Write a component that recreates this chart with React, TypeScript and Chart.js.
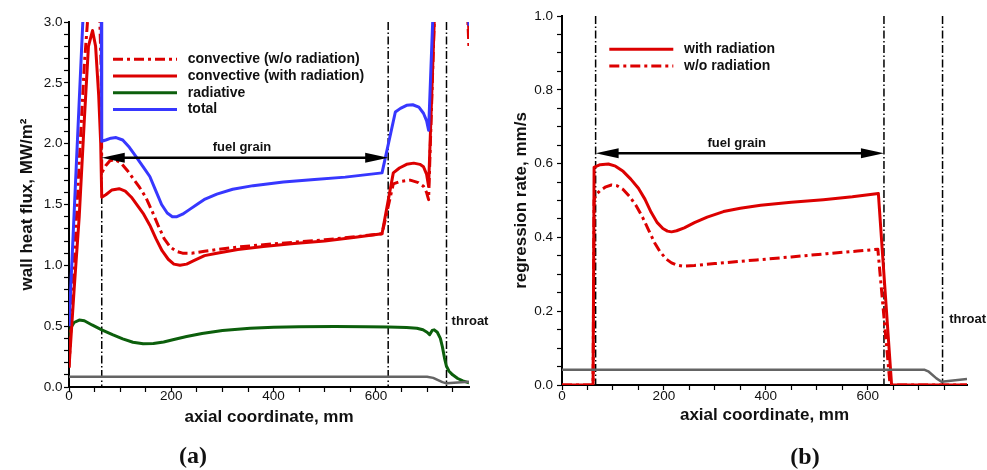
import { useEffect, useRef } from 'react';
import { Chart, registerables } from 'chart.js';

Chart.register(...registerables);

const FONT = "'Liberation Sans', Arial, Helvetica, sans-serif";
Chart.defaults.font.family = FONT;
Chart.defaults.color = '#111';

// ---------- Panel (a): wall heat flux ----------
const A_X_TICKS = [0, 50, 100, 150, 200, 250, 300, 350, 400, 450, 500, 550, 600, 650, 700, 750];
const A_X_LABELS = [0, 200, 400, 600];
const A_Y_TICKS = [0, 0.1, 0.2, 0.3, 0.4, 0.5, 0.6, 0.7, 0.8, 0.9, 1.0, 1.1, 1.2, 1.3, 1.4, 1.5, 1.6, 1.7, 1.8, 1.9, 2.0, 2.1, 2.2, 2.3, 2.4, 2.5, 2.6, 2.7, 2.8, 2.9, 3.0];
const A_Y_LABELS = [0, 0.5, 1.0, 1.5, 2.0, 2.5, 3.0];

const A_CONV_WO_X = [0, 10, 20, 30, 37, 50, 60, 63, 64, 72, 80, 90, 102, 114, 126, 138, 150, 162, 174, 186, 198, 210, 222, 240, 265, 289, 330, 380, 440, 500, 560, 612, 634, 648, 667, 683, 693, 699, 703, 714, 722, 770, 782];
const A_CONV_WO_Y = [0.16, 1.0, 1.85, 2.65, 3.05, 3.25, 3.05, 2.6, 1.76, 1.82, 1.86, 1.87, 1.84, 1.78, 1.71, 1.64, 1.56, 1.45, 1.33, 1.22, 1.15, 1.115, 1.10, 1.10, 1.115, 1.13, 1.15, 1.17, 1.19, 1.21, 1.235, 1.26, 1.67, 1.69, 1.70, 1.68, 1.65, 1.60, 1.54, 3.0, 4.0, 4.0, 2.78];

const A_CONV_W_X = [0, 10, 20, 30, 38, 46, 52, 58, 62, 64, 72, 84, 98, 110, 122, 134, 146, 158, 170, 182, 194, 205, 217, 230, 245, 265, 289, 330, 380, 440, 500, 560, 612, 634, 646, 660, 674, 686, 693, 699, 703, 714, 722, 770, 782];
const A_CONV_W_Y = [0.16, 0.8, 1.4, 2.2, 2.8, 2.93, 2.8, 2.4, 2.0, 1.56, 1.58, 1.62, 1.63, 1.61, 1.56, 1.49, 1.42, 1.33, 1.22, 1.12, 1.05, 1.01, 1.00, 1.01, 1.04, 1.08, 1.10, 1.13, 1.155, 1.18, 1.20, 1.23, 1.26, 1.76, 1.80, 1.83, 1.84, 1.83, 1.81, 1.75, 1.65, 3.0, 4.0, 4.0, 2.9];

const A_RAD_X = [0, 4, 10, 20, 30, 45, 64, 85, 105, 125, 145, 165, 185, 205, 230, 260, 300, 354, 400, 450, 520, 580, 625, 660, 680, 692, 700, 705, 710, 714, 720, 726, 730, 734, 738, 743, 750, 760, 770, 782];
const A_RAD_Y = [0.40, 0.49, 0.53, 0.55, 0.545, 0.51, 0.47, 0.43, 0.395, 0.368, 0.355, 0.357, 0.37, 0.39, 0.415, 0.44, 0.465, 0.483, 0.492, 0.496, 0.497, 0.495, 0.493, 0.49, 0.483, 0.47, 0.45, 0.43, 0.465, 0.47, 0.45, 0.40, 0.33, 0.24, 0.17, 0.13, 0.10, 0.07, 0.05, 0.035];

const A_TOTAL_X = [0, 27, 35, 50, 60, 63, 64, 72, 82, 92, 105, 118, 130, 145, 158, 170, 181, 192, 202, 211, 222, 236, 250, 266, 289, 320, 360, 419, 480, 540, 612, 638, 648, 660, 672, 684, 693, 699, 703, 711, 720, 770, 782];
const A_TOTAL_Y = [0.5, 3.0, 3.7, 4.0, 3.7, 3.2, 2.02, 2.03, 2.045, 2.05, 2.03, 1.97, 1.90, 1.81, 1.73, 1.61, 1.50, 1.43, 1.40, 1.40, 1.42, 1.46, 1.50, 1.545, 1.585, 1.625, 1.655, 1.685, 1.705, 1.725, 1.76, 2.26, 2.29, 2.315, 2.32, 2.30, 2.25, 2.19, 2.11, 3.0, 4.0, 4.0, 2.97];

const A_WALL_X = [0, 700, 712, 730, 738, 782];
const A_WALL_Y = [0.085, 0.085, 0.075, 0.04, 0.03, 0.044];

const A_MARKERS = [64, 624, 738];
const A_ARROW = [64, 624, 1.884];
const A_THROAT = [748, 0.537];

// ---------- Panel (b): regression rate ----------
const B_X_TICKS = [0, 50, 100, 150, 200, 250, 300, 350, 400, 450, 500, 550, 600, 650, 700, 750];
const B_X_LABELS = [0, 200, 400, 600];
const B_Y_TICKS = [0, 0.05, 0.1, 0.15, 0.2, 0.25, 0.3, 0.35, 0.4, 0.45, 0.5, 0.55, 0.6, 0.65, 0.7, 0.75, 0.8, 0.85, 0.9, 0.95, 1.0];
const B_Y_LABELS = [0, 0.2, 0.4, 0.6, 0.8, 1.0];

const B_WITH_X = [0, 61, 63, 66, 75, 91, 105, 120, 135, 150, 163, 175, 187, 198, 207, 215, 225, 240, 260, 285, 317, 350, 390, 450, 513, 570, 621, 647, 795];
const B_WITH_Y = [0, 0, 0.59, 0.592, 0.597, 0.599, 0.593, 0.579, 0.558, 0.533, 0.503, 0.468, 0.440, 0.424, 0.417, 0.415, 0.418, 0.426, 0.440, 0.455, 0.470, 0.479, 0.487, 0.495, 0.502, 0.510, 0.519, 0, 0];

const B_WO_X = [0, 61, 63, 66, 75, 86, 97, 108, 120, 132, 145, 158, 170, 182, 193, 205, 215, 225, 238, 260, 300, 382, 450, 520, 580, 620, 644, 795];
const B_WO_Y = [0, 0, 0.50, 0.515, 0.527, 0.537, 0.542, 0.540, 0.530, 0.512, 0.487, 0.455, 0.420, 0.385, 0.360, 0.341, 0.331, 0.325, 0.322, 0.324, 0.329, 0.339, 0.347, 0.356, 0.363, 0.368, 0, 0];

const B_WALL_X = [0, 712, 720, 735, 745, 795];
const B_WALL_Y = [0.041, 0.041, 0.036, 0.018, 0.009, 0.016];

const B_MARKERS = [66, 632, 747];
const B_ARROW = [66, 632, 0.628];
const B_THROAT = [760, 0.178];

const RED = 'rgb(220,0,0)';
const BLUE = 'rgb(55,55,255)';
const GREEN = 'rgb(12,95,12)';
const GRAY = 'rgb(100,100,100)';
const DASHDOT = [10, 4, 3, 4];

function series(label: string, xs: number[], ys: number[], color: string, width: number, dash: number[] = []) {
  return {
    label,
    data: xs.map((x, i) => ({ x, y: ys[i] })),
    borderColor: color,
    backgroundColor: color,
    borderWidth: width,
    borderDash: dash,
    pointRadius: 0,
    tension: 0,
    fill: false,
    borderJoinStyle: 'round',
  };
}

function near(list: number[], v: number) {
  return list.some((l) => Math.abs(l - v) < 1e-6);
}

type Spec = {
  width: number;
  datasets: any[];
  xMax: number;
  yMax: number;
  xTicks: number[];
  xLabels: number[];
  yTicks: number[];
  yLabels: number[];
  yTitle: string;
  padTop: number;
  padRight: number;
  yAxisWidth: number;
  xAxisHeight: number;
  yTitlePad: number;
  xTitlePad: number;
  yTickPad: number;
  xTickPad: number;
  markers: number[];
  arrow: number[];
  throat: number[];
  legend: { label: string; color: string; dash: number[] }[];
  legendDx: number;
  legendDy: number;
};

function overlay(spec: Spec) {
  return {
    id: 'overlay',
    beforeDatasetsDraw(chart: any) {
      const { ctx, chartArea, scales } = chart;
      const x = scales.x;
      ctx.save();
      ctx.strokeStyle = '#000';
      ctx.lineWidth = 1.5;
      ctx.setLineDash([8, 2.5, 1.5, 2.5]);
      for (const m of spec.markers) {
        const px = x.getPixelForValue(m);
        ctx.beginPath();
        ctx.moveTo(px, chartArea.top);
        ctx.lineTo(px, chartArea.bottom);
        ctx.stroke();
      }
      ctx.restore();
    },
    afterDatasetsDraw(chart: any) {
      const { ctx, chartArea, scales } = chart;
      const x = scales.x;
      const y = scales.y;
      ctx.save();
      // fuel grain arrow
      const xa = x.getPixelForValue(spec.arrow[0]);
      const xb = x.getPixelForValue(spec.arrow[1]);
      const ay = y.getPixelForValue(spec.arrow[2]);
      const head = 23;
      const hh = 5;
      ctx.strokeStyle = '#000';
      ctx.fillStyle = '#000';
      ctx.lineWidth = 2.5;
      ctx.setLineDash([]);
      ctx.beginPath();
      ctx.moveTo(xa + head - 2, ay);
      ctx.lineTo(xb - head + 2, ay);
      ctx.stroke();
      ctx.beginPath();
      ctx.moveTo(xa, ay);
      ctx.lineTo(xa + head, ay - hh);
      ctx.lineTo(xa + head, ay + hh);
      ctx.closePath();
      ctx.fill();
      ctx.beginPath();
      ctx.moveTo(xb, ay);
      ctx.lineTo(xb - head, ay - hh);
      ctx.lineTo(xb - head, ay + hh);
      ctx.closePath();
      ctx.fill();
      ctx.fillStyle = '#111';
      ctx.font = `bold 13px ${FONT}`;
      ctx.textAlign = 'center';
      ctx.textBaseline = 'middle';
      ctx.fillText('fuel grain', (xa + xb) / 2 - 3, ay - 10);
      // throat
      ctx.textAlign = 'left';
      ctx.fillText('throat', x.getPixelForValue(spec.throat[0]), y.getPixelForValue(spec.throat[1]));
      // legend
      ctx.font = `bold 14px ${FONT}`;
      spec.legend.forEach((it, i) => {
        const ly = chartArea.top + spec.legendDy + i * 16.7;
        const lx = chartArea.left + spec.legendDx;
        ctx.strokeStyle = it.color;
        ctx.lineWidth = 3;
        ctx.setLineDash(it.dash);
        ctx.beginPath();
        ctx.moveTo(lx, ly);
        ctx.lineTo(lx + 64, ly);
        ctx.stroke();
        ctx.setLineDash([]);
        ctx.fillStyle = '#111';
        ctx.fillText(it.label, lx + 74.7, ly);
      });
      ctx.restore();
    },
  };
}

function Panel({ spec }: { spec: Spec }) {
  const ref = useRef<HTMLCanvasElement | null>(null);
  useEffect(() => {
    if (!ref.current) return;
    const chart = new Chart(ref.current, {
      type: 'line',
      data: { datasets: spec.datasets },
      options: {
        responsive: false,
        animation: false,
        events: [],
        layout: { padding: { top: spec.padTop, right: spec.padRight, left: 0, bottom: 0 } },
        plugins: { legend: { display: false }, tooltip: { enabled: false } },
        scales: {
          x: {
            type: 'linear',
            min: 0,
            max: spec.xMax,
            afterBuildTicks: (s: any) => {
              s.ticks = spec.xTicks.map((v) => ({ value: v }));
            },
            afterFit: (s: any) => {
              s.height = spec.xAxisHeight;
            },
            ticks: {
              autoSkip: false,
              maxRotation: 0,
              padding: spec.xTickPad,
              color: '#111',
              font: { size: 13.5 },
              callback: (v: any) => (near(spec.xLabels, v) ? String(Math.round(v)) : ''),
            },
            grid: { drawOnChartArea: false, drawTicks: true, tickLength: 5, color: '#000', tickWidth: 1.2 },
            border: { display: true, color: '#000', width: 2 },
            title: {
              display: true,
              text: 'axial coordinate, mm',
              color: '#111',
              font: { size: 17, weight: 'bold' },
              padding: { top: 0, bottom: spec.xTitlePad },
            },
          },
          y: {
            type: 'linear',
            min: 0,
            max: spec.yMax,
            afterBuildTicks: (s: any) => {
              s.ticks = spec.yTicks.map((v) => ({ value: v }));
            },
            afterFit: (s: any) => {
              s.width = spec.yAxisWidth;
            },
            ticks: {
              autoSkip: false,
              padding: spec.yTickPad,
              color: '#111',
              font: { size: 13.5 },
              callback: (v: any) => (near(spec.yLabels, v) ? Number(v).toFixed(1) : ''),
            },
            grid: { drawOnChartArea: false, drawTicks: true, tickLength: 5, color: '#000', tickWidth: 1.2 },
            border: { display: true, color: '#000', width: 2 },
            title: {
              display: true,
              text: spec.yTitle,
              color: '#111',
              font: { size: 17, weight: 'bold' },
              padding: { top: spec.yTitlePad, bottom: 0 },
            },
          },
        },
      } as any,
      plugins: [overlay(spec) as any],
    });
    return () => chart.destroy();
  }, [spec]);
  return <canvas ref={ref} width={spec.width} height={470} style={{ width: spec.width, height: 470, display: 'block' }} />;
}

const SPEC_A: Spec = {
  width: 493,
  datasets: [
    series('wall', A_WALL_X, A_WALL_Y, GRAY, 2.5),
    series('total', A_TOTAL_X, A_TOTAL_Y, BLUE, 3),
    series('convective (w/o radiation)', A_CONV_WO_X, A_CONV_WO_Y, RED, 3, DASHDOT),
    series('convective (with radiation)', A_CONV_W_X, A_CONV_W_Y, RED, 3),
    series('radiative', A_RAD_X, A_RAD_Y, GREEN, 3),
  ],
  xMax: 782,
  yMax: 3,
  xTicks: A_X_TICKS,
  xLabels: A_X_LABELS,
  yTicks: A_Y_TICKS,
  yLabels: A_Y_LABELS,
  yTitle: 'wall heat flux, MW/m²',
  padTop: 22,
  padRight: 24,
  yAxisWidth: 69,
  xAxisHeight: 83,
  yTitlePad: 16.8,
  xTitlePad: 42.3,
  yTickPad: 1.5,
  xTickPad: -3.4,
  markers: A_MARKERS,
  arrow: A_ARROW,
  throat: A_THROAT,
  legend: [
    { label: 'convective (w/o radiation)', color: RED, dash: DASHDOT },
    { label: 'convective (with radiation)', color: RED, dash: [] },
    { label: 'radiative', color: GREEN, dash: [] },
    { label: 'total', color: BLUE, dash: [] },
  ],
  legendDx: 44,
  legendDy: 37.3,
};

const SPEC_B: Spec = {
  width: 494,
  datasets: [
    series('wall', B_WALL_X, B_WALL_Y, GRAY, 2.5),
    series('w/o radiation', B_WO_X, B_WO_Y, RED, 3, DASHDOT),
    series('with radiation', B_WITH_X, B_WITH_Y, RED, 3),
  ],
  xMax: 795,
  yMax: 1,
  xTicks: B_X_TICKS,
  xLabels: B_X_LABELS,
  yTicks: B_Y_TICKS,
  yLabels: B_Y_LABELS,
  yTitle: 'regression rate, mm/s',
  padTop: 16,
  padRight: 20,
  yAxisWidth: 69,
  xAxisHeight: 85,
  yTitlePad: 17.8,
  xTitlePad: 44.8,
  yTickPad: 4,
  xTickPad: -1.4,
  markers: B_MARKERS,
  arrow: B_ARROW,
  throat: B_THROAT,
  legend: [
    { label: 'with radiation', color: RED, dash: [] },
    { label: 'w/o radiation', color: RED, dash: DASHDOT },
  ],
  legendDx: 47.3,
  legendDy: 33.3,
};

const capStyle: any = {
  position: 'absolute',
  transform: 'translate(-50%, -50%)',
  fontFamily: "'Liberation Serif', 'DejaVu Serif', serif",
  fontWeight: 'bold',
  fontSize: 24,
  color: '#111',
  lineHeight: 1,
};

export default function App() {
  return (
    <div style={{ position: 'absolute', left: 0, top: 0, width: 987, height: 470, background: '#fff', overflow: 'hidden' }}>
      <div style={{ position: 'absolute', left: 0, top: 0 }}>
        <Panel spec={SPEC_A} />
      </div>
      <div style={{ position: 'absolute', left: 493, top: 0 }}>
        <Panel spec={SPEC_B} />
      </div>
      <div style={{ ...capStyle, left: 193, top: 455 }}>(a)</div>
      <div style={{ ...capStyle, left: 805, top: 456 }}>(b)</div>
    </div>
  );
}
